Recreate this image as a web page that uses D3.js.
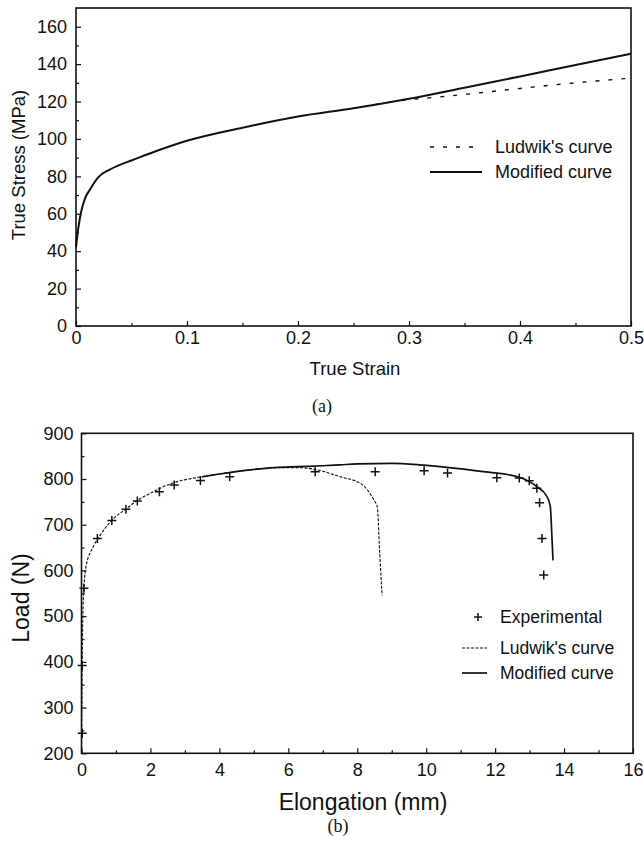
<!DOCTYPE html>
<html>
<head>
<meta charset="utf-8">
<script src="https://cdn.jsdelivr.net/npm/d3@7"></script>
<style>
  body { margin: 0; background: #fff; }
  svg { display: block; }
  text { font-family: "Liberation Sans", Arial, Helvetica, sans-serif; fill: #111; }
  .cap { font-family: "Liberation Serif", "Times New Roman", serif; }
</style>
</head>
<body>
<svg id="fig" width="644" height="847"></svg>
<script>
// (a) true stress - true strain
var strainTicks = [0, 0.1, 0.2, 0.3, 0.4, 0.5];
var stressTicks = [0, 20, 40, 60, 80, 100, 120, 140, 160];
var modStrain = [0, 0.002, 0.005, 0.008, 0.0126, 0.02, 0.03, 0.04, 0.05, 0.07, 0.1, 0.15, 0.2, 0.25, 0.3, 0.35, 0.4, 0.45, 0.5];
var modStress = [42, 52, 62, 68, 73, 79.5, 83.5, 86.3, 88.5, 93, 99, 106, 112, 116.4, 121.5, 127.4, 133.4, 139.5, 145.5];
var ludStrain = [0.27, 0.3, 0.33, 0.35, 0.4, 0.45, 0.5];
var ludStress = [118.5, 121, 122.6, 123.8, 127, 130, 132.5];

// (b) load - elongation
var elongTicks = [0, 2, 4, 6, 8, 10, 12, 14, 16];
var loadTicks = [200, 300, 400, 500, 600, 700, 800, 900];
var expElong = [0.02, 0.02, 0.07, 0.46, 0.88, 1.29, 1.62, 2.26, 2.69, 3.45, 4.3, 6.78, 8.52, 9.94, 10.62, 12.05, 12.7, 12.99, 13.21, 13.29, 13.36, 13.41];
var expLoad = [244, 392, 561, 670, 709, 734, 752, 772, 787, 797, 805, 816, 816, 818, 813, 803, 802, 796, 780, 748, 670, 590];
var ludElong = [0, 0.02, 0.05, 0.13, 0.34, 0.5, 0.88, 1.3, 1.62, 2.0, 2.6, 3.5, 4.0, 4.9, 5.6, 6.3, 6.7, 7.0, 7.5, 8.1, 8.5, 8.58, 8.65, 8.72];
var ludLoad = [200, 400, 530, 608, 652, 672, 710, 735, 753, 769, 790, 805, 811, 820, 825, 825, 822, 817, 805, 790, 752, 740, 640, 545];
var modElong = [3.5, 4.0, 4.9, 5.6, 6.3, 7.0, 7.5, 8.0, 9.0, 9.8, 10.4, 10.8, 11.8, 12.7, 13.2, 13.5, 13.6, 13.65, 13.68];
var modLoad = [805, 811, 820, 825, 827, 829, 831, 833, 834, 831, 827, 824, 815, 804, 784, 762, 740, 670, 622];

var svg = d3.select("#fig");

function zip(xs, ys) {
  return xs.map(function(v, i) { return [v, ys[i]]; });
}

function frame(x, y) {
  svg.append("rect")
    .attr("x", x.range()[0]).attr("y", y.range()[1])
    .attr("width", x.range()[1] - x.range()[0])
    .attr("height", y.range()[0] - y.range()[1])
    .attr("fill", "none").attr("stroke", "#111").attr("stroke-width", 1.6);
}

function axes(x, y, xt, yt, xMinor, yMinor, xFmt, xPad, yPad, fs) {
  var y0 = y.range()[0], x0 = x.range()[0];
  // minor ticks first, no labels
  svg.append("g").attr("transform", "translate(0," + y0 + ")")
    .call(d3.axisBottom(x).tickValues(xMinor).tickSize(-3).tickFormat(""))
    .call(function(g) { g.select(".domain").remove(); });
  svg.append("g").attr("transform", "translate(" + x0 + ",0)")
    .call(d3.axisLeft(y).tickValues(yMinor).tickSize(-3).tickFormat(""))
    .call(function(g) { g.select(".domain").remove(); });

  var gx = svg.append("g").attr("transform", "translate(0," + y0 + ")")
    .call(d3.axisBottom(x).tickValues(xt).tickSize(-5).tickPadding(xPad).tickFormat(xFmt));
  var gy = svg.append("g").attr("transform", "translate(" + x0 + ",0)")
    .call(d3.axisLeft(y).tickValues(yt).tickSize(-5).tickPadding(yPad).tickFormat(d3.format("d")));
  [gx, gy].forEach(function(g) {
    g.select(".domain").remove();
    g.selectAll("text").style("font-family", '"Liberation Sans", Arial, sans-serif')
      .style("font-size", fs + "px").attr("fill", "#111");
  });
  svg.selectAll("g line").attr("stroke", "#111").attr("stroke-width", 1.2);
}

/* ---------- (a) ---------- */
var xa = d3.scaleLinear().domain([0, 0.5]).range([76, 631]);
var ya = d3.scaleLinear().domain([0, 170]).range([326, 8]);

axes(xa, ya, strainTicks, stressTicks, d3.range(0.05, 0.5, 0.1), d3.range(10, 170, 20),
  function(d) { return d === 0 ? "0" : d3.format(".1f")(d); }, 5, 9, 18);

var lineA = d3.line().x(function(d) { return xa(d[0]); }).y(function(d) { return ya(d[1]); })
  .curve(d3.curveMonotoneX);

svg.append("path").attr("d", lineA(zip(ludStrain, ludStress)))
  .attr("fill", "none").attr("stroke", "#111").attr("stroke-width", 1.4)
  .attr("stroke-dasharray", "4,9");
svg.append("path").attr("d", lineA(zip(modStrain, modStress)))
  .attr("fill", "none").attr("stroke", "#111").attr("stroke-width", 2);

frame(xa, ya);

svg.append("text").attr("x", 355).attr("y", 375).attr("text-anchor", "middle")
  .style("font-size", "18.5px").text("True Strain");
svg.append("text").attr("transform", "translate(24.5,165) rotate(-90)").attr("text-anchor", "middle")
  .style("font-size", "18.5px").text("True Stress (MPa)");
svg.append("text").attr("class", "cap").attr("x", 322).attr("y", 412).attr("text-anchor", "middle")
  .style("font-size", "18px").text("(a)");

// legend (a)
var legA = [["Ludwik's curve", "4,9", 147], ["Modified curve", null, 172]];
legA.forEach(function(l) {
  svg.append("line").attr("x1", 430).attr("x2", 482).attr("y1", l[2]).attr("y2", l[2])
    .attr("stroke", "#111").attr("stroke-width", l[1] ? 1.4 : 2)
    .attr("stroke-dasharray", l[1]);
  svg.append("text").attr("x", 495).attr("y", l[2]).attr("dy", "0.35em")
    .style("font-size", "18px").text(l[0]);
});

/* ---------- (b) ---------- */
var xb = d3.scaleLinear().domain([0, 16]).range([81.5, 633]);
var yb = d3.scaleLinear().domain([200, 900]).range([753.3, 433.3]);

axes(xb, yb, elongTicks, loadTicks, d3.range(1, 16, 2), d3.range(250, 900, 100),
  d3.format("d"), 9.5, 8, 18);

var lineB = d3.line().x(function(d) { return xb(d[0]); }).y(function(d) { return yb(d[1]); })
  .curve(d3.curveMonotoneX);

svg.append("path").attr("d", lineB(zip(ludElong, ludLoad)))
  .attr("fill", "none").attr("stroke", "#111").attr("stroke-width", 1.1)
  .attr("stroke-dasharray", "3,1.5");
svg.append("path").attr("d", lineB(zip(modElong, modLoad)))
  .attr("fill", "none").attr("stroke", "#111").attr("stroke-width", 1.7);

// experimental points as "+" marks
svg.append("g").selectAll("path.exp")
  .data(zip(expElong, expLoad))
  .join("path")
  .attr("class", "exp")
  .attr("transform", function(d) { return "translate(" + xb(d[0]) + "," + yb(d[1]) + ")"; })
  .attr("d", "M-4.5,0H4.5M0,-4.5V4.5")
  .attr("stroke", "#111").attr("stroke-width", 1.5).attr("fill", "none");

frame(xb, yb);

svg.append("text").attr("x", 363).attr("y", 810).attr("text-anchor", "middle")
  .style("font-size", "23px").text("Elongation (mm)");
svg.append("text").attr("transform", "translate(29,598) rotate(-90)").attr("text-anchor", "middle")
  .style("font-size", "23px").text("Load (N)");
svg.append("text").attr("class", "cap").attr("x", 338).attr("y", 832).attr("text-anchor", "middle")
  .style("font-size", "18px").text("(b)");

// legend (b)
svg.append("path").attr("d", "M474,617H482M478,613V621")
  .attr("stroke", "#111").attr("stroke-width", 1.5);
svg.append("line").attr("x1", 462).attr("x2", 487).attr("y1", 648).attr("y2", 648)
  .attr("stroke", "#111").attr("stroke-width", 1.1).attr("stroke-dasharray", "3,1.5");
svg.append("line").attr("x1", 462).attr("x2", 487).attr("y1", 673).attr("y2", 673)
  .attr("stroke", "#111").attr("stroke-width", 1.7);
[["Experimental", 617], ["Ludwik's curve", 648], ["Modified curve", 673]].forEach(function(l) {
  svg.append("text").attr("x", 500).attr("y", l[1]).attr("dy", "0.35em")
    .style("font-size", "17.5px").text(l[0]);
});
</script>
</body>
</html>
